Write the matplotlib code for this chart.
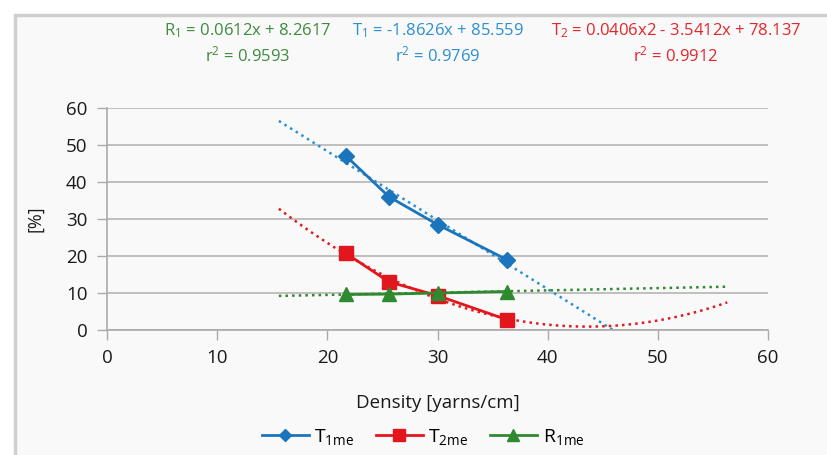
import numpy as np
import matplotlib
matplotlib.use("Agg")
import matplotlib.pyplot as plt
from matplotlib.patches import Rectangle
from matplotlib.lines import Line2D

plt.rcParams['font.family'] = ['Open Sans', 'DejaVu Sans']
plt.rcParams['mathtext.fontset'] = 'custom'
plt.rcParams['mathtext.rm'] = 'Open Sans'
plt.rcParams['mathtext.it'] = 'Open Sans'

# data
density = [21.7, 25.6, 30.0, 36.3]
t1me = [47.0, 36.0, 28.5, 19.0]
t2me = [20.7, 13.0, 9.3, 2.8]
r1me = [9.6, 9.7, 10.0, 10.4]

# trendline coefficients (highest power first) and ranges
t1_coef = [-1.8626, 85.559]
t2_coef = [0.0406, -3.5412, 78.137]
r1_coef = [0.0612, 8.2617]
t1_range = [15.6, 45.9]
t2_range = [15.6, 56.3]
r1_range = [15.6, 56.3]

xticks = [0, 10, 20, 30, 40, 50, 60]
yticks = [0, 10, 20, 30, 40, 50, 60]

blue = '#1b75bc'
red = '#e3161e'
green = '#2f8a2f'
eq_green = '#3d8b3d'
eq_blue = '#2b8fd1'
eq_red = '#e2262b'

fig = plt.figure(figsize=(8.27, 4.55), dpi=100)
fig.patch.set_facecolor('white')
# outer frame
fig.add_artist(Rectangle((15/827, -0.1), 1.0, 1 - 15/455 + 0.1, transform=fig.transFigure,
                         facecolor='#f9f9f9', edgecolor='#cfcfcf', linewidth=2.5, zorder=0))

ax = fig.add_axes([107/827, 1 - 330/455, (768 - 107)/827, (330 - 108)/455])
ax.set_facecolor('none')
ax.set_xlim(0, 60)
ax.set_ylim(0, 60)
ax.set_xticks(xticks)
ax.set_yticks(yticks)
ax.tick_params(axis='both', labelsize=13.5, colors='#1a1a1a', length=7, width=1, color='#aaaaaa', pad=7)
for s in ['top', 'right']:
    ax.spines[s].set_visible(False)
for s in ['left', 'bottom']:
    ax.spines[s].set_color('#aaaaaa')
    ax.spines[s].set_linewidth(1.2)
ax.yaxis.grid(True, color='#b5b5b5', linewidth=1.2)
ax.set_axisbelow(True)

# trend lines
xs = np.linspace(*t1_range, 100)
ax.plot(xs, np.polyval(t1_coef, xs), ':', color=eq_blue, lw=1.8, zorder=2)
xs = np.linspace(*t2_range, 100)
ax.plot(xs, np.polyval(t2_coef, xs), ':', color=red, lw=1.8, zorder=2)
xs = np.linspace(*r1_range, 100)
ax.plot(xs, np.polyval(r1_coef, xs), ':', color=green, lw=1.8, zorder=2)

# series
ax.plot(density, t1me, '-', color=blue, lw=2, marker='D', ms=8, zorder=3)
ax.plot(density, t2me, '-', color=red, lw=2, marker='s', ms=10, zorder=3)
ax.plot(density, r1me, '-', color=green, lw=2, marker='^', ms=10, zorder=3)

ax.set_xlabel('Density [yarns/cm]', fontsize=13.5, color='#1a1a1a', labelpad=19)
ax.set_ylabel('[%]', fontsize=13, color='#1a1a1a', labelpad=16)

# equations
eqfont = dict(fontsize=12, ha='center', va='center')
fig.text(248/827, 1 - 31/455, r'R$_1$ = 0.0612x + 8.2617', color=eq_green, **eqfont)
fig.text(248/827, 1 - 55/455, r'r$^2$ = 0.9593', color=eq_green, **eqfont)
fig.text(438/827, 1 - 31/455, r'T$_1$ = -1.8626x + 85.559', color=eq_blue, **eqfont)
fig.text(438/827, 1 - 55/455, r'r$^2$ = 0.9769', color=eq_blue, **eqfont)
fig.text(676/827, 1 - 31/455, r'T$_2$ = 0.0406x2 - 3.5412x + 78.137', color=eq_red, **eqfont)
fig.text(676/827, 1 - 55/455, r'r$^2$ = 0.9912', color=eq_red, **eqfont)

handles = [
    Line2D([], [], color=blue, lw=2, marker='D', ms=6),
    Line2D([], [], color=red, lw=2, marker='s', ms=8),
    Line2D([], [], color=green, lw=2, marker='^', ms=8),
]
labels = [r'T$_{\mathrm{1me}}$', r'T$_{\mathrm{2me}}$', r'R$_{\mathrm{1me}}$']
fig.legend(handles, labels, loc='center', bbox_to_anchor=(423/827, 1 - 437/455), ncol=3,
           frameon=False, fontsize=14, handlelength=2.4, columnspacing=1.1, handletextpad=0.3)

fig.savefig('out.png', dpi=100, facecolor=fig.get_facecolor())
